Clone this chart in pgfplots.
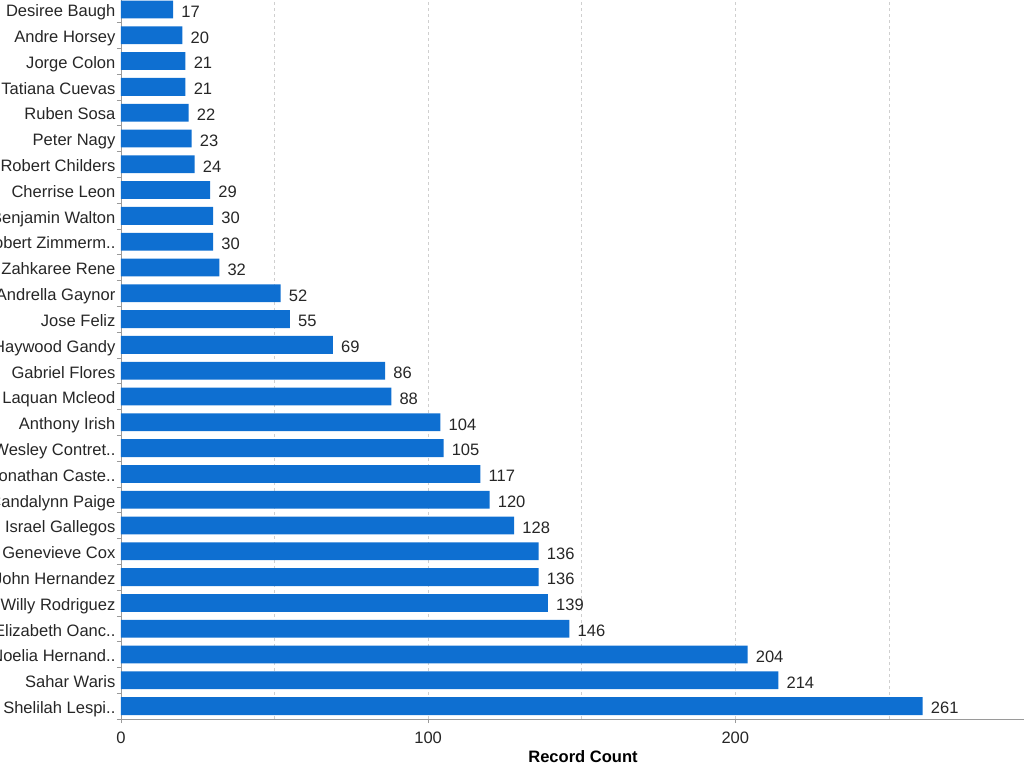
\documentclass[border=0pt]{standalone}
\usepackage{pgfplots}
\pgfplotsset{compat=1.18}
\usepackage{fontspec}
\setmainfont{Liberation Sans}
\definecolor{barblue}{HTML}{0E6FD1}
\definecolor{axisgray}{HTML}{9A9A9A}
\definecolor{gridgray}{HTML}{CFCFCF}
\newcommand{\lblfont}{\fontsize{12.4}{14}\selectfont}
\begin{document}
\begin{tikzpicture}
\useasboundingbox (-90.75pt,-36.75pt) rectangle (677.25pt,539.25pt);
\clip (-90.75pt,-36.75pt) rectangle (677.25pt,539.25pt);
\begin{axis}[
  at={(0,0)}, anchor=south west,
  scale only axis, width=677.25pt, height=541.8pt,
  xbar, bar width=0.69,
  xmin=0, xmax=294, ymin=-0.5, ymax=27.5,
  axis x line*=bottom, axis y line*=left,
  axis line style={axisgray},
  xtick={0,100,200},
  extra x ticks={50,150,250}, extra x tick labels={},
  extra x tick style={major tick length=0pt},
  xmajorgrids,
  grid style={gridgray, dash pattern=on 2.25pt off 2.25pt},
  ytick={-0.5,0.5,...,26.5},
  yticklabels={Shelilah Lespi..,Sahar Waris,Noelia Hernand..,Elizabeth Oanc..,Willy Rodriguez,John Hernandez,Genevieve Cox,Israel Gallegos,Candalynn Paige,Jonathan Caste..,Wesley Contret..,Anthony Irish,Laquan Mcleod,Gabriel Flores,Haywood Gandy,Jose Feliz,Andrella Gaynor,Zahkaree Rene,Robert Zimmerm..,Benjamin Walton,Cherrise Leon,Robert Childers,Peter Nagy,Ruben Sosa,Tatiana Cuevas,Jorge Colon,Andre Horsey,Desiree Baugh},
  tick align=outside, major tick length=3pt,
  tick style={axisgray, thin},
  ticklabel style={font=\lblfont, text=black!85},
  xticklabel style={yshift=-3.5pt},
  yticklabel style={inner sep=0pt, anchor=base east, xshift=-1pt, yshift=4.2pt},
  /pgf/number format/assume math mode=true,
  xlabel={\textbf{Record Count}},
  xlabel style={font=\lblfont, at={(axis description cs:0.5116,0)}, anchor=center, yshift=-28.5pt},
  nodes near coords,
  nodes near coords align={horizontal},
  every node near coord/.append style={font=\lblfont, text=black!85, anchor=base west, inner sep=0pt, xshift=6pt, yshift=-5.8pt},
]
\addplot[draw=none, fill=barblue] coordinates {
(261,0) (214,1) (204,2) (146,3) (139,4) (136,5) (136,6) (128,7)
(120,8) (117,9) (105,10) (104,11) (88,12) (86,13) (69,14) (55,15)
(52,16) (32,17) (30,18) (30,19) (29,20) (24,21) (23,22) (22,23)
(21,24) (21,25) (20,26) (17,27)
};
\end{axis}
\end{tikzpicture}
\end{document}
